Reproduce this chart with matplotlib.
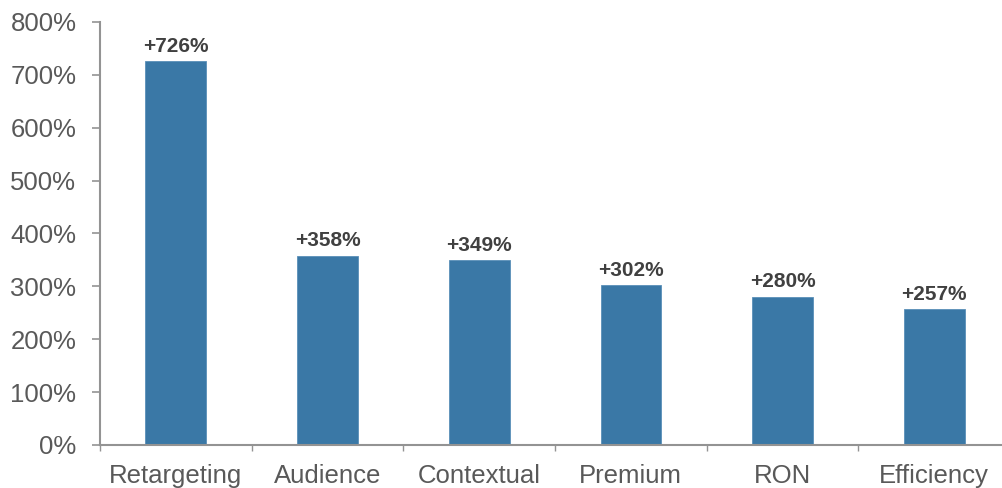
import matplotlib.pyplot as plt
from matplotlib.ticker import FuncFormatter

categories = ['Retargeting', 'Audience', 'Contextual', 'Premium', 'RON', 'Efficiency']
lift = [726, 358, 349, 302, 280, 257]
labels = ['+726%', '+358%', '+349%', '+302%', '+280%', '+257%']

bar_color = '#3A78A6'
axis_color = '#939393'
text_color = '#595959'

plt.rcParams['font.family'] = ['Liberation Sans', 'DejaVu Sans']

fig = plt.figure(figsize=(10.02, 4.88), dpi=100)
ax = fig.add_axes([100 / 1002, 43 / 488, 910 / 1002, 423 / 488])

x = range(len(categories))
ax.bar(x, lift, width=0.4, color=bar_color, edgecolor='#5A8FB8', linewidth=0.6)

for i, (v, lab) in enumerate(zip(lift, labels)):
    ax.annotate(lab, (i, v), xytext=(0, 4), textcoords='offset points',
                ha='center', va='bottom', fontsize=15, fontweight='bold',
                color='#404040')

ax.set_xlim(-0.5, len(categories) - 0.5)
ax.set_ylim(0, 800)
ax.set_yticks(range(0, 801, 100))
ax.yaxis.set_major_formatter(FuncFormatter(lambda v, p: f'{v:.0f}%'))

# category names in the middle, tick marks on the boundaries
ax.set_xticks([i - 0.5 for i in x] + [len(categories) - 0.5])
ax.set_xticklabels([])
ax.set_xticks(list(x), minor=True)
ax.set_xticklabels(categories, minor=True)
ax.tick_params(axis='x', which='major', length=4, width=1.0, color=axis_color, direction='out')
ax.tick_params(axis='x', which='minor', length=0, pad=14, labelsize=18.5, labelcolor=text_color)
ax.tick_params(axis='y', length=6, width=1.2, color=axis_color, direction='out',
               labelsize=18.5, labelcolor=text_color, pad=11)

for side in ['top', 'right']:
    ax.spines[side].set_visible(False)
for side in ['left', 'bottom']:
    ax.spines[side].set_color(axis_color)
    ax.spines[side].set_linewidth(1.5)

fig.savefig('out.png', dpi=100)
